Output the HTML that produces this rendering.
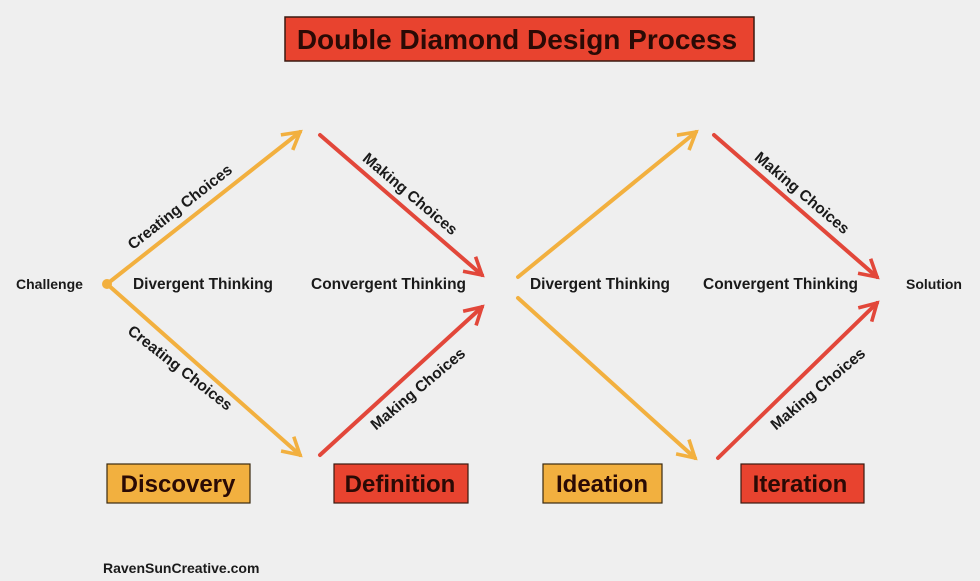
<!DOCTYPE html>
<html><head><meta charset="utf-8"><style>
html,body{margin:0;padding:0;background:#efefef;}
svg{display:block;font-family:"Liberation Sans",Arial,sans-serif;}
</style></head><body>
<svg width="980" height="581" viewBox="0 0 980 581" xmlns="http://www.w3.org/2000/svg">
<defs>
<marker id="ay" viewBox="0 0 10 10" refX="8" refY="5" markerWidth="6" markerHeight="6" orient="auto" markerUnits="strokeWidth"><path d="M1,1 L8,5 L1,9" fill="none" stroke="#f2b03f" stroke-width="1.5"/></marker>
<marker id="ar" viewBox="0 0 10 10" refX="8" refY="5" markerWidth="6" markerHeight="6" orient="auto" markerUnits="strokeWidth"><path d="M1,1 L8,5 L1,9" fill="none" stroke="#e2473a" stroke-width="1.5"/></marker>
</defs>
<rect x="0" y="0" width="980" height="581" fill="#efefef"/>
<rect x="285" y="17" width="469" height="44" fill="#e8432f" stroke="#3a1a10" stroke-width="1.5"/>
<text x="517" y="49" text-anchor="middle" font-size="28" font-weight="bold" fill="#2a0a05">Double Diamond Design Process</text>
<g stroke-width="4" fill="none" stroke-linecap="round">
<line x1="107" y1="284" x2="300" y2="132" stroke="#f2b03f" marker-end="url(#ay)"/>
<line x1="107" y1="284" x2="300" y2="455" stroke="#f2b03f" marker-end="url(#ay)"/>
<line x1="320" y1="135" x2="482" y2="275" stroke="#e2473a" marker-end="url(#ar)"/>
<line x1="320" y1="455" x2="482" y2="307" stroke="#e2473a" marker-end="url(#ar)"/>
<line x1="518" y1="277" x2="696" y2="132" stroke="#f2b03f" marker-end="url(#ay)"/>
<line x1="518" y1="298" x2="695" y2="458" stroke="#f2b03f" marker-end="url(#ay)"/>
<line x1="714" y1="135" x2="877" y2="277" stroke="#e2473a" marker-end="url(#ar)"/>
<line x1="718" y1="458" x2="877" y2="303" stroke="#e2473a" marker-end="url(#ar)"/>
</g>
<circle cx="107" cy="284" r="5" fill="#f2b03f"/>
<g font-size="15.5" font-weight="bold" fill="#1a1a1a">
<text x="16" y="289" font-size="14">Challenge</text>
<text x="133" y="289" textLength="140" lengthAdjust="spacingAndGlyphs">Divergent Thinking</text>
<text x="311" y="289" textLength="155" lengthAdjust="spacingAndGlyphs">Convergent Thinking</text>
<text x="530" y="289" textLength="140" lengthAdjust="spacingAndGlyphs">Divergent Thinking</text>
<text x="703" y="289" textLength="155" lengthAdjust="spacingAndGlyphs">Convergent Thinking</text>
<text x="906" y="289" font-size="14">Solution</text>
<text x="180" y="212" text-anchor="middle" transform="rotate(-38 180 207)">Creating Choices</text>
<text x="180" y="373" text-anchor="middle" transform="rotate(38 180 368)">Creating Choices</text>
<text x="410" y="199" text-anchor="middle" transform="rotate(40 410 194)">Making Choices</text>
<text x="418" y="394" text-anchor="middle" transform="rotate(-40 418 389)">Making Choices</text>
<text x="802" y="198" text-anchor="middle" transform="rotate(40 802 193)">Making Choices</text>
<text x="818" y="394" text-anchor="middle" transform="rotate(-40 818 389)">Making Choices</text>
<text x="103" y="573" font-size="14">RavenSunCreative.com</text>
</g>
<g font-size="24" font-weight="bold" fill="#2a0a05" text-anchor="middle">
<rect x="107" y="464" width="143" height="39" fill="#f2b03f" stroke="#3a2a10" stroke-width="1.2"/>
<text x="178" y="492">Discovery</text>
<rect x="334" y="464" width="134" height="39" fill="#e8432f" stroke="#3a1a10" stroke-width="1.2"/>
<text x="400" y="492">Definition</text>
<rect x="543" y="464" width="119" height="39" fill="#f2b03f" stroke="#3a2a10" stroke-width="1.2"/>
<text x="602" y="492">Ideation</text>
<rect x="741" y="464" width="123" height="39" fill="#e8432f" stroke="#3a1a10" stroke-width="1.2"/>
<text x="800" y="492">Iteration</text>
</g>
</svg>
</body></html>
